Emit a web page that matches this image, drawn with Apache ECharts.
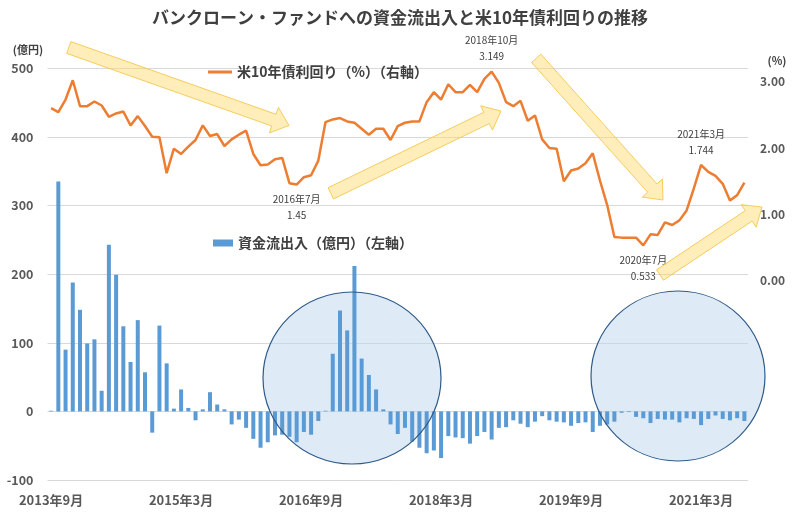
<!DOCTYPE html>
<html><head><meta charset="utf-8">
<script src="https://cdn.jsdelivr.net/npm/echarts@6/dist/echarts.min.js"></script>
<style>html,body{margin:0;padding:0;background:#fff}#c{width:800px;height:522px}</style>
</head><body><div id="c"></div>
<script>
// ---- data ----
const startYear = 2013, startMonth = 9, monthCount = 97;
const categories = [];
for (let i = 0; i < monthCount; i++) {
  const t = startMonth - 1 + i;
  categories.push((startYear + Math.floor(t / 12)) + '年' + (t % 12 + 1) + '月');
}
const xTickLabels = ['2013年9月', '2015年3月', '2016年9月', '2018年3月', '2019年9月', '2021年3月'];

// 資金流出入（億円）
const fundFlows = [
  1, 335, 90, 188, 148, 99, 105, 30, 243, 199, 124, 72, 133, 57, -31, 125, 70, 4, 32, 5,
  -13, 3, 28, 10, 3, -19, -12, -24, -40, -53, -45, -35, -34, -37, -45, -30, -34, -14, 1, 84,
  147, 118, 212, 77, 53, 32, 3, -19, -33, -24, -44, -53, -61, -57, -68, -36, -38, -39, -47, -36,
  -30, -41, -24, -23, -13, -18, -23, -15, -7, -13, -15, -16, -21, -17, -16, -30, -21, -19, -15, -2,
  -1, -8, -10, -17, -11, -12, -12, -16, -10, -11, -20, -11, -6, -11, -13, -10, -14
];
// 米10年債利回り（%）
const yield10y = [
  2.60, 2.54, 2.73, 3.02, 2.63, 2.63, 2.70, 2.64, 2.47, 2.52, 2.55, 2.34, 2.48, 2.33, 2.17, 2.16, 1.62, 1.99, 1.91, 2.02,
  2.12, 2.34, 2.18, 2.21, 2.03, 2.13, 2.20, 2.26, 1.91, 1.74, 1.75, 1.83, 1.85, 1.47, 1.45, 1.56, 1.59, 1.81, 2.39, 2.43,
  2.45, 2.40, 2.38, 2.29, 2.20, 2.29, 2.29, 2.12, 2.33, 2.38, 2.40, 2.40, 2.69, 2.84, 2.73, 2.96, 2.84, 2.84, 2.95, 2.84,
  3.04, 3.149, 2.98, 2.69, 2.63, 2.71, 2.41, 2.49, 2.13, 2.00, 1.99, 1.50, 1.66, 1.69, 1.77, 1.92, 1.51, 1.14, 0.66, 0.65,
  0.65, 0.65, 0.533, 0.70, 0.69, 0.88, 0.84, 0.91, 1.06, 1.39, 1.744, 1.64, 1.58, 1.46, 1.21, 1.29, 1.48
];
const labelMonths = ['2016年7月', '2018年10月', '2020年7月', '2021年3月'];
const labelSides = ['bottom', 'top', 'bottom', 'top'];

const seriesNames = ['資金流出入（億円）（左軸）', '米10年債利回り（%）（右軸）'];
const titleText = 'バンクローン・ファンドへの資金流出入と米10年債利回りの推移';

// ---- annotations (decorations) ----
const circles = [
  { cx: 352, cy: 378, rx: 89, ry: 86 },
  { cx: 678, cy: 376, rx: 87, ry: 85 }
];
const arrows = [
  { tail: [68.8, 47.5], tip: [289, 125.5] },
  { tail: [330.8, 193.3], tip: [501, 111] },
  { tail: [536.2, 58.3], tip: [663, 200] },
  { tail: [660, 275], tip: [762, 207] }
];

const FONT = '"Noto Sans CJK JP", "Noto Sans", sans-serif';

function arrowPoints(tail, tip, shaftW, headW, headL) {
  const dx = tip[0] - tail[0], dy = tip[1] - tail[1];
  const L = Math.hypot(dx, dy), ux = dx / L, uy = dy / L, px = -uy, py = ux;
  const bx = tip[0] - ux * headL, by = tip[1] - uy * headL;
  const s = shaftW / 2, h = headW / 2;
  return [
    [tail[0] + px * s, tail[1] + py * s],
    [bx + px * s, by + py * s],
    [bx + px * h, by + py * h],
    tip,
    [bx - px * h, by - py * h],
    [bx - px * s, by - py * s],
    [tail[0] - px * s, tail[1] - py * s]
  ];
}

const lineData = yield10y.map((v, i) => {
  const k = labelMonths.indexOf(categories[i]);
  if (k < 0) return v;
  return {
    value: v,
    label: {
      show: true,
      position: labelSides[k],
      distance: 7,
      formatter: categories[i] + '\n' + v,
      fontSize: 10,
      lineHeight: 16,
      color: '#404040',
      fontFamily: FONT
    }
  };
});

const graphic = [];
circles.forEach(c => graphic.push({
  type: 'ellipse', shape: c, silent: true, z: 1,
  style: { fill: 'rgba(189,215,238,0.5)' }
}));
circles.forEach(c => graphic.push({
  type: 'ellipse', shape: c, silent: true, z: 5,
  style: { fill: 'none', stroke: '#2F5A88', lineWidth: 1.2 }
}));
arrows.forEach(a => graphic.push({
  type: 'polygon', silent: true, z: 6,
  shape: { points: arrowPoints(a.tail, a.tip, 12.5, 27, 16) },
  style: { fill: 'rgba(255,214,102,0.45)', stroke: 'rgba(244,200,80,0.9)', lineWidth: 1 }
}));
graphic.push({
  type: 'text', x: 28, y: 50, z: 6,
  style: { text: '(億円)', align: 'center', verticalAlign: 'middle', font: 'bold 11px ' + FONT, fill: '#404040' }
});
graphic.push({
  type: 'text', x: 777, y: 61, z: 6,
  style: { text: '(%)', align: 'center', verticalAlign: 'middle', font: 'bold 11px ' + FONT, fill: '#404040' }
});

const chart = echarts.init(document.getElementById('c'));
chart.setOption({
  animation: false,
  backgroundColor: '#fff',
  textStyle: { fontFamily: FONT },
  title: {
    text: titleText, left: 'center', top: 9, padding: 0,
    textStyle: { fontSize: 17, fontWeight: 'bold', color: '#404040', fontFamily: FONT }
  },
  legend: [
    {
      data: [seriesNames[1]], left: 208, top: 65, padding: 0,
      icon: 'rect', itemWidth: 24, itemHeight: 3,
      textStyle: { fontSize: 14, fontWeight: 'bold', color: '#404040', fontFamily: FONT }
    },
    {
      data: [seriesNames[0]], left: 213, top: 236, padding: 0,
      icon: 'rect', itemWidth: 20, itemHeight: 7,
      textStyle: { fontSize: 14, fontWeight: 'bold', color: '#404040', fontFamily: FONT }
    }
  ],
  grid: { left: 47.5, right: 52, top: 68.3, bottom: 42, containLabel: false },
  xAxis: {
    type: 'category', data: categories, boundaryGap: true,
    axisLine: { show: false }, axisTick: { show: false },
    axisLabel: {
      interval: (idx, val) => xTickLabels.indexOf(val) >= 0,
      margin: 14, fontSize: 13, fontWeight: 'bold', color: '#595959', fontFamily: FONT
    },
    splitLine: { show: false }
  },
  yAxis: [
    {
      type: 'value', min: -100, max: 500, interval: 100,
      axisLine: { show: false }, axisTick: { show: false },
      axisLabel: { margin: 14, fontSize: 12.5, fontWeight: 'bold', color: '#595959', fontFamily: FONT },
      splitLine: { show: true, lineStyle: { color: '#D9D9D9', width: 1 } }
    },
    {
      type: 'value', min: -3, max: 3.2, interval: 1,
      axisLine: { show: false }, axisTick: { show: false },
      axisLabel: {
        margin: 12, fontSize: 12, fontWeight: 'bold', color: '#595959', fontFamily: FONT,
        formatter: v => (v >= 0 && v <= 3) ? v.toFixed(2) : ''
      },
      splitLine: { show: false }
    }
  ],
  series: [
    {
      name: seriesNames[0], type: 'bar', yAxisIndex: 0, data: fundFlows,
      barWidth: 4, itemStyle: { color: '#5B9BD5' }, z: 2
    },
    {
      name: seriesNames[1], type: 'line', yAxisIndex: 1, data: lineData,
      symbol: 'circle', symbolSize: 0, showSymbol: true, showAllSymbol: true,
      lineStyle: { color: '#ED7D31', width: 2.5 }, itemStyle: { color: '#ED7D31' }, z: 3
    }
  ],
  graphic: graphic
});
</script></body></html>
